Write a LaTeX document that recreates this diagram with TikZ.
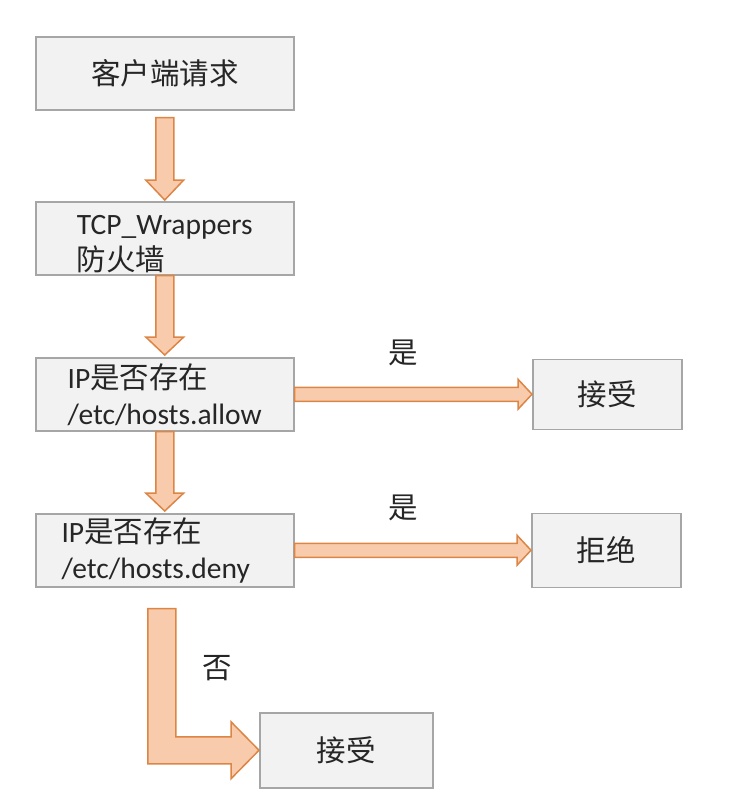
\documentclass[tikz,border=0pt]{standalone}
\usepackage{fontspec}
\setmainfont{Carlito}
\newfontfamily\cjk{Noto Sans CJK SC}
\usetikzlibrary{calc}
\definecolor{boxfill}{HTML}{F2F2F2}
\definecolor{boxline}{HTML}{A6A6A6}
\definecolor{arrfill}{HTML}{F8CBAD}
\definecolor{arrline}{HTML}{DC8544}
\definecolor{txt}{HTML}{262626}
\tikzset{
  box/.style={draw=boxline, fill=boxfill, line width=1.5pt, inner sep=0pt,
    anchor=north west, align=left, text=txt,
    font=\fontsize{29.5}{36}\selectfont},
  blockarrow/.style={draw=arrline, fill=arrfill, line width=1.5pt, line join=miter},
  lbl/.style={text=txt, font=\fontsize{29.5}{36}\selectfont\cjk}
}
\begin{document}
\begin{tikzpicture}[x=1pt,y=-1pt]
\useasboundingbox (0,0) rectangle (732,804);
% boxes
\node[box, minimum width=258, minimum height=73] (b1) at (35,36) {\cjk 客户端请求};
\node[box, minimum width=258, minimum height=73] (b2) at (35,201) {\rule{0pt}{30pt}TCP\_Wrappers\\{\cjk 防火墙}};
\node[box, minimum width=258, minimum height=73] (b3) at (35,357) {IP{\cjk 是否存在}\\/etc/hosts.allow};
\node[box, minimum width=258, minimum height=73] (b4) at (35,513) {IP{\cjk 是否存在}\\/etc/hosts.deny\hspace*{18pt}};
\node[box, minimum width=149, minimum height=70] (r1) at (532,358.5) {\cjk 接受};
\node[box, minimum width=149, minimum height=74] (r2) at (531,512.5) {\cjk 拒绝};
\node[box, minimum width=173, minimum height=75] (r3) at (259,712) {\cjk 接受};
% vertical arrows
\draw[blockarrow] let \p1=(b1.south), \p2=(b2.north) in
  (\x1-9pt,\y1-7pt) -- (\x1-9pt,\y2+21pt) -- (\x1-19pt,\y2+21pt) -- (\x1,\y2+1pt)
  -- (\x1+19pt,\y2+21pt) -- (\x1+9pt,\y2+21pt) -- (\x1+9pt,\y1-7pt) -- cycle;
\draw[blockarrow] let \p1=(b2.south), \p2=(b3.north) in
  (\x1-9pt,\y1) -- (\x1-9pt,\y2+20pt) -- (\x1-19pt,\y2+20pt) -- (\x1,\y2+2pt)
  -- (\x1+19pt,\y2+20pt) -- (\x1+9pt,\y2+20pt) -- (\x1+9pt,\y1) -- cycle;
\draw[blockarrow] let \p1=(b3.south), \p2=(b4.north) in
  (\x1-9pt,\y1) -- (\x1-9pt,\y2+20pt) -- (\x1-19pt,\y2+20pt) -- (\x1,\y2+2pt)
  -- (\x1+19pt,\y2+20pt) -- (\x1+9pt,\y2+20pt) -- (\x1+9pt,\y1) -- cycle;
% horizontal arrows
\draw[blockarrow] let \p1=(b3.east), \p2=(r1.west) in
  (\x1,\y2+7pt) -- (\x2-14pt,\y2+7pt) -- (\x2-14pt,\y2+15pt) -- (\p2)
  -- (\x2-14pt,\y2-15pt) -- (\x2-14pt,\y2-7pt) -- (\x1,\y2-7pt) -- cycle;
\draw[blockarrow] let \p1=(b4.east), \p2=(r2.west) in
  (\x1,\y2+7pt) -- (\x2-14pt,\y2+7pt) -- (\x2-14pt,\y2+15pt) -- (\p2)
  -- (\x2-14pt,\y2-15pt) -- (\x2-14pt,\y2-7pt) -- (\x1,\y2-7pt) -- cycle;
% L-shaped arrow
\draw[blockarrow] let \p1=(b4.south), \p2=(r3.west) in
  (\x1-17pt,\y1-21pt) -- (\x1-17pt,\y2-13.5pt) -- (\x2-28pt,\y2-13.5pt)
  -- (\x2-28pt,\y2-28.5pt) -- (\p2) -- (\x2-28pt,\y2+28.5pt)
  -- (\x2-28pt,\y2+13.5pt) -- (\x1+11pt,\y2+13.5pt) -- (\x1+11pt,\y1-21pt) -- cycle;
% labels
\node[lbl] (y1) at (403,353) {是};
\node[lbl] (y2) at (403,508) {是};
\node[lbl] (n1) at (217,668) {否};
\end{tikzpicture}
\end{document}
